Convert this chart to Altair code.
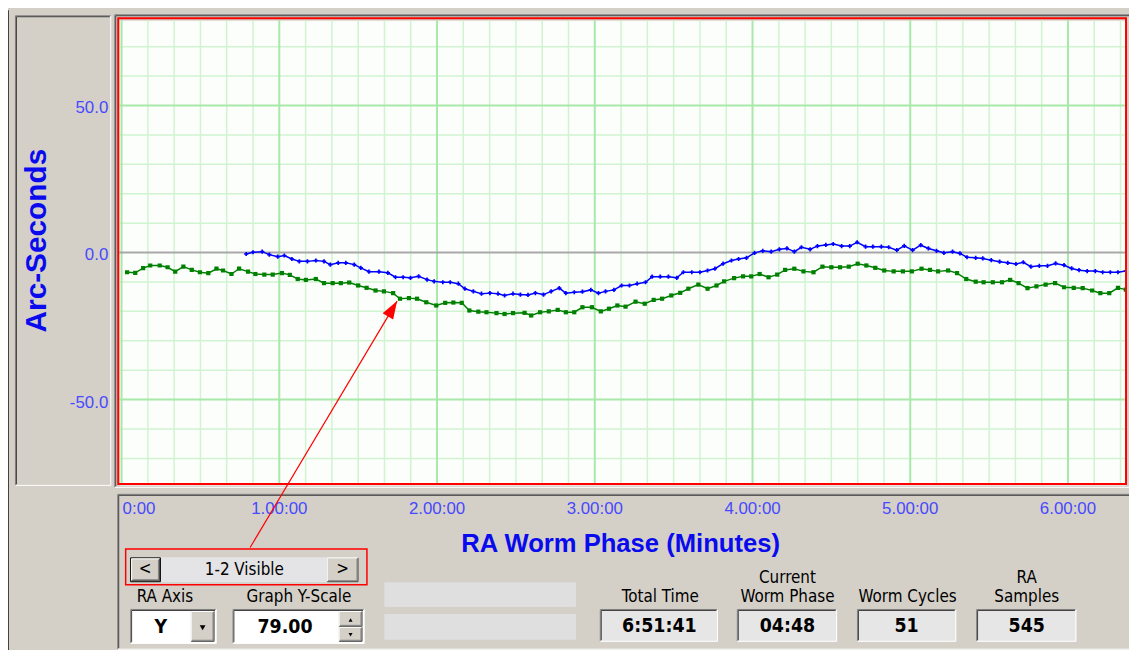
import altair as alt
import pandas as pd

# ---------------- series data (worm phase in minutes, error in arc-seconds) ----------------
green_t = [2.1, 5.2, 8.2, 10.9, 14.5, 17.5, 20.4, 23.5, 26.7, 29.8, 33.0, 36.1, 38.6, 41.8, 44.7,
           48.1, 50.9, 54.3, 57.5, 61.0, 64.0, 67.0, 70.1, 73.9, 77.0, 80.3, 83.4, 86.6, 90.0, 93.2,
           96.6, 99.8, 103.3, 105.9, 109.3, 112.4, 115.9, 119.7, 123.1, 126.2, 129.4, 132.3, 135.7,
           138.8, 142.6, 145.7, 148.9, 153.3, 155.8, 159.2, 162.5, 165.9, 169.0, 172.2, 175.3, 178.9,
           182.3, 185.4, 188.6, 191.7, 195.5, 199.0, 202.4, 205.6, 209.1, 212.5, 215.6, 219.4, 222.9,
           226.3, 229.2, 233.0, 236.4, 239.5, 242.7, 246.1, 249.4, 252.4, 255.9, 259.4, 263.2, 266.6,
           270.0, 273.3, 276.6, 280.0, 283.3, 286.7, 290.1, 293.7, 297.2, 300.6, 304.3, 307.5, 310.6,
           314.4, 317.8, 321.3, 324.9, 327.9, 331.4, 334.9, 338.0, 341.2, 344.6, 348.0, 351.5, 355.1,
           358.5, 362.2, 365.6, 369.2, 372.3, 375.7, 379.0, 382.0]
green_v = [-6.7, -6.9, -5.3, -4.4, -4.4, -5.0, -6.5, -4.8, -5.9, -6.7, -7.0, -5.5, -6.1, -7.3, -5.5,
           -6.5, -7.3, -7.5, -7.5, -7.0, -7.6, -9.0, -9.3, -9.0, -10.4, -10.4, -10.4, -10.2, -11.2, -12.0,
           -12.9, -13.2, -13.8, -15.7, -15.5, -15.7, -16.9, -18.0, -17.1, -17.0, -17.1, -19.7, -20.1,
           -20.3, -20.6, -20.9, -20.6, -20.5, -21.4, -20.3, -20.0, -19.5, -20.3, -20.3, -18.6, -18.6,
           -20.0, -19.1, -18.0, -18.4, -16.7, -17.4, -16.1, -15.7, -14.6, -13.7, -12.3, -10.9, -12.3,
           -11.2, -9.8, -8.7, -8.1, -8.1, -7.3, -8.4, -7.5, -5.9, -5.5, -6.4, -6.7, -4.8,
           -5.0, -5.0, -4.8, -3.8, -4.4, -5.2, -6.1, -6.4, -6.4, -6.4, -5.5, -5.9, -6.4,
           -6.1, -7.0, -9.0, -9.9, -10.1, -10.1, -10.1, -9.3, -10.4, -12.1, -11.5, -10.9, -10.4,
           -11.8, -12.0, -12.1, -12.9, -13.8, -13.8, -12.0, -12.6]

blue_t = [47.4, 50.0, 53.5, 56.2, 59.4, 61.9, 64.8, 67.6, 70.7, 73.9, 77.0, 79.4, 82.4, 85.3, 88.5,
          91.0, 94.1, 97.9, 101.3, 104.2, 107.1, 109.9, 113.0, 116.2, 118.9, 122.2, 125.0, 128.1,
          130.6, 133.8, 136.9, 140.1, 143.2, 145.7, 148.9, 151.7, 154.6, 157.4, 160.5, 163.4, 166.5,
          169.0, 172.2, 175.3, 178.5, 181.4, 184.1, 187.3, 190.2, 193.2, 196.1, 199.3, 201.8, 204.9,
          208.0, 211.2, 213.7, 216.9, 220.0, 222.9, 225.7, 228.8, 232.0, 234.7, 237.7, 240.8, 243.9,
          247.1, 250.2, 253.1, 255.9, 258.6, 261.9, 264.7, 267.9, 270.7, 273.9, 277.0, 279.8, 283.0,
          285.8, 289.0, 291.8, 294.9, 297.7, 300.9, 304.0, 306.9, 310.0, 312.8, 316.1, 318.9, 321.6,
          324.9, 327.6, 330.8, 334.0, 337.1, 340.2, 343.0, 345.9, 349.1, 352.2, 355.3, 358.5, 361.4,
          364.2, 367.3, 370.4, 373.2, 376.1, 379.0, 382.0]
blue_v = [-0.5, 0.1, 0.3, -0.7, -1.4, -1.0, -2.2, -3.0, -3.0, -2.7, -3.0, -4.1, -3.5, -3.5, -4.1,
          -5.2, -6.5, -6.5, -6.9, -8.4, -8.4, -8.6, -8.1, -9.2, -9.8, -10.1, -10.1, -10.6,
          -12.3, -13.2, -14.0, -13.8, -14.0, -14.6, -14.0, -14.3, -14.4, -13.8, -14.3, -13.2, -12.1,
          -13.8, -13.5, -13.3, -12.7, -13.8, -13.2, -12.7, -11.2, -11.2, -10.6, -10.1, -8.2, -8.2,
          -8.2, -8.6, -6.7, -6.7, -6.7, -6.1, -5.5, -3.8, -2.7, -2.2, -1.8, -0.1, 0.6,
          0.3, 1.1, 1.4, 0.3, 1.8, 1.1, 2.2, 2.6, 2.9, 2.2, 2.2, 3.5, 2.0,
          2.0, 2.0, 1.8, 0.8, 2.3, 0.8, 2.5, 1.4, 0.6, -0.1, 0.3, -0.3, -1.6,
          -1.8, -2.0, -2.6, -3.1, -3.5, -3.9, -3.3, -4.8, -4.5, -4.5, -3.7, -4.3, -5.4,
          -6.0, -6.3, -6.3, -6.7, -6.7, -6.7, -6.3]

series_names = ["Cycle 1", "Cycle 2"]
series_colors = ["#008000", "#0000ff"]
series_shapes = ["square", "cross"]

# axis ticks and grid positions
x_label_ticks = [0, 60, 120, 180, 240, 300, 360]
x_label_texts = ["0:00", "1.00:00", "2.00:00", "3.00:00", "4.00:00", "5.00:00", "6.00:00"]
y_label_ticks = [-50, 0, 50]
y_label_texts = ["-50.0", "0.0", "50.0"]
x_major_grid = [0, 60, 120, 180, 240, 300, 360]
x_minor_grid = [10, 20, 30, 40, 50, 70, 80, 90, 100, 110, 130, 140, 150, 160, 170, 190, 200, 210,
                220, 230, 250, 260, 270, 280, 290, 310, 320, 330, 340, 350, 370, 380]
y_major_grid = [-50, 50]
y_minor_grid = [-70, -60, -40, -30, -20, -10, 10, 20, 30, 40, 60, 70]
zero_line = [0]
x_title = "RA Worm Phase (Minutes)"
y_title = "Arc-Seconds"

# annotation arrow (data coordinates: tail in the control panel, tip at the curve)
arrow_t = [48.9]
arrow_v = [-100.3]
arrow_t2 = [104.8]
arrow_v2 = [-16.5]

# panel texts
label_texts = ["<", ">", "1-2 Visible", "RA Axis", "Graph Y-Scale", "Total Time", "Current",
               "Worm Phase", "Worm Cycles", "RA", "Samples"]
value_texts = ["Y", "79.00", "6:51:41", "04:48", "51", "545"]

X_DOM = [-0.9, 381.7]
Y_DOM = [-79, 79]

# ---------------- layout (page pixels) ----------------
OX, OY = 120, 18          # page position of plot area
W, H = 1013, 468
PAD = {"left": 112, "top": 10, "right": 4, "bottom": 164}

UI_FONT = "'Liberation Sans Narrow', 'DejaVu Sans Condensed', 'Liberation Sans', sans-serif"
AX_FONT = "Liberation Sans"
GRAY = "#d4d0c8"
LABEL_BLUE = "#4848ff"
TITLE_BLUE = "#0a0aee"

rects, frames, bevels = [], [], []


def rect(store, x0, y0, x1, y1, fill="transparent", stroke="transparent", sw=0):
    store.append(dict(x=x0 - OX, y=y0 - OY, x2=x1 - OX, y2=y1 - OY, fill=fill, stroke=stroke, sw=sw))


def line(x0, y0, x1, y1, color, w=1):
    bevels.append(dict(x=x0 - OX, y=y0 - OY, x2=x1 - OX, y2=y1 - OY, color=color, w=w))


def sunken(x0, y0, x1, y1, fill=None):
    if fill:
        rect(rects, x0, y0, x1, y1, fill=fill)
    line(x0 + .5, y0 + .5, x1 - .5, y0 + .5, "#808080")
    line(x0 + .5, y0 + .5, x0 + .5, y1 - .5, "#808080")
    line(x0 + 1.5, y0 + 1.5, x1 - 1.5, y0 + 1.5, "#404040")
    line(x0 + 1.5, y0 + 1.5, x0 + 1.5, y1 - 1.5, "#404040")
    line(x0 + .5, y1 - .5, x1 - .5, y1 - .5, "#ffffff")
    line(x1 - .5, y0 + .5, x1 - .5, y1 - .5, "#ffffff")


def raised(x0, y0, x1, y1, fill=GRAY):
    rect(rects, x0, y0, x1, y1, fill=fill)
    line(x0 + .5, y0 + .5, x1 - .5, y0 + .5, "#ffffff")
    line(x0 + .5, y0 + .5, x0 + .5, y1 - .5, "#ffffff")
    line(x0 + .5, y1 - .5, x1 - .5, y1 - .5, "#404040")
    line(x1 - .5, y0 + .5, x1 - .5, y1 - .5, "#404040")
    line(x0 + 1.5, y1 - 1.5, x1 - 1.5, y1 - 1.5, "#808080")
    line(x1 - 1.5, y0 + 1.5, x1 - 1.5, y1 - 1.5, "#808080")


# window edge
line(8.5, 8, 8.5, 660, "#404040")
# y-axis panel
sunken(15, 13, 112, 487)
# plot frame
sunken(115, 12, 1140, 489)
rect(frames, 119, 16, 1134, 485, stroke="#ff0000", sw=2)
# bottom control panel
sunken(118, 495, 1145, 652)
# scroll control + red annotation box
rect(rects, 162, 559, 329, 584, fill="#e4e3e6")
raised(132, 560, 161, 583)
rect(frames, 131.5, 559.5, 161.5, 583.5, stroke="#000000", sw=1)
raised(329, 559, 361, 584)
rect(frames, 126.5, 550.5, 369.5, 586.5, stroke="#ff0000", sw=1.5)
# combo box and spin box
sunken(131, 611, 218, 646, fill="#ffffff")
raised(192, 613, 216, 644)
sunken(234, 611, 367, 646, fill="#ffffff")
raised(341, 613, 365, 629)
raised(341, 629, 365, 644)
# empty status fields
rect(rects, 387, 584, 580, 609, fill="#dfdfdf")
rect(rects, 387, 616, 580, 642, fill="#dfdfdf")
# value boxes
for bx0, bx1 in [(604, 723), (742, 843), (863, 963), (983, 1084)]:
    sunken(bx0, 611, bx1, 644, fill="#e6e6e6")

label_pos = [(146, 571), (345, 571), (246, 572), (166, 599), (301, 599), (665, 599), (793, 580),
             (793, 599), (914, 599), (1034, 580), (1034, 599)]
value_pos = [(162, 629), (287, 629), (664, 628), (793, 628), (913, 628), (1034, 628)]
tri_pos = [(204, 630, "triangle-down", 34), (353, 622, "triangle-up", 16), (353, 637, "triangle-down", 16)]

df_labels = pd.DataFrame({"text": label_texts,
                          "x": [p[0] - OX for p in label_pos], "y": [p[1] - OY for p in label_pos]})
df_values = pd.DataFrame({"text": value_texts,
                          "x": [p[0] - OX for p in value_pos], "y": [p[1] - OY for p in value_pos]})
df_tri = pd.DataFrame({"x": [p[0] - OX for p in tri_pos], "y": [p[1] - OY for p in tri_pos],
                       "shape": [p[2] for p in tri_pos], "size": [p[3] for p in tri_pos]})

# ---------------- chart ----------------
xs = alt.Scale(domain=X_DOM, nice=False, zero=False)
ys = alt.Scale(domain=Y_DOM, nice=False, zero=False)
px = lambda f: alt.X(f, scale=None, axis=None)
py = lambda f: alt.Y(f, scale=None, axis=None)
dx_ = lambda f: alt.X(f, scale=xs, axis=None)
dy_ = lambda f: alt.Y(f, scale=ys, axis=None)

ui_rects = alt.Chart(pd.DataFrame(rects)).mark_rect().encode(
    x=px("x:Q"), x2="x2:Q", y=py("y:Q"), y2="y2:Q",
    fill=alt.Fill("fill:N", scale=None), stroke=alt.Stroke("stroke:N", scale=None),
    strokeWidth=alt.StrokeWidth("sw:Q", scale=None))

ui_frames = alt.Chart(pd.DataFrame(frames)).mark_rect(fill="transparent").encode(
    x=px("x:Q"), x2="x2:Q", y=py("y:Q"), y2="y2:Q",
    stroke=alt.Stroke("stroke:N", scale=None), strokeWidth=alt.StrokeWidth("sw:Q", scale=None))

ui_bevels = alt.Chart(pd.DataFrame(bevels)).mark_rule().encode(
    x=px("x:Q"), x2="x2:Q", y=py("y:Q"), y2="y2:Q",
    color=alt.Color("color:N", scale=None), strokeWidth=alt.StrokeWidth("w:Q", scale=None))

grid_minor_x = alt.Chart(pd.DataFrame({"t": x_minor_grid})).mark_rule(
    color="#d0f4d0", strokeWidth=1.5).encode(x=dx_("t:Q"))
grid_major_x = alt.Chart(pd.DataFrame({"t": x_major_grid})).mark_rule(
    color="#a8e8a8", strokeWidth=2).encode(x=dx_("t:Q"))
grid_minor_y = alt.Chart(pd.DataFrame({"v": y_minor_grid})).mark_rule(
    color="#d0f4d0", strokeWidth=1.5).encode(y=dy_("v:Q"))
grid_major_y = alt.Chart(pd.DataFrame({"v": y_major_grid})).mark_rule(
    color="#a8e8a8", strokeWidth=2).encode(y=dy_("v:Q"))
zero_rule = alt.Chart(pd.DataFrame({"v": zero_line})).mark_rule(
    color="#a8a8a8", strokeWidth=2).encode(y=dy_("v:Q"))

df_series = pd.concat([
    pd.DataFrame({"t": green_t, "v": green_v, "series": series_names[0]}),
    pd.DataFrame({"t": blue_t, "v": blue_v, "series": series_names[1]}),
])
base = alt.Chart(df_series).encode(
    x=dx_("t:Q"), y=dy_("v:Q"),
    color=alt.Color("series:N", scale=alt.Scale(domain=series_names, range=series_colors), legend=None),
    detail="series:N",
)
lines_layer = base.mark_line(strokeWidth=1.5, clip=True)
points_layer = base.mark_point(filled=True, size=18, opacity=1, clip=True).encode(
    shape=alt.Shape("series:N", scale=alt.Scale(domain=series_names, range=series_shapes), legend=None))

# axis tick labels and titles (drawn as text so they sit on top of the control panels)
df_xlab = pd.DataFrame({"t": x_label_ticks, "text": x_label_texts})
x_labels_first = alt.Chart(df_xlab.iloc[:1]).mark_text(
    font=AX_FONT, fontSize=17, color=LABEL_BLUE, align="left", baseline="middle", dx=1).encode(
    x=dx_("t:Q"), y=alt.value(510 - OY), text="text:N")
x_labels_rest = alt.Chart(df_xlab.iloc[1:]).mark_text(
    font=AX_FONT, fontSize=17, color=LABEL_BLUE, align="center", baseline="middle").encode(
    x=dx_("t:Q"), y=alt.value(510 - OY), text="text:N")
y_labels = alt.Chart(pd.DataFrame({"v": y_label_ticks, "text": y_label_texts})).mark_text(
    font=AX_FONT, fontSize=17, color=LABEL_BLUE, align="right", baseline="middle", dy=3).encode(
    x=alt.value(109 - OX), y=dy_("v:Q"), text="text:N")
x_title_layer = alt.Chart(pd.DataFrame({"text": [x_title]})).mark_text(
    font=AX_FONT, fontSize=25.8, fontWeight="bold", color=TITLE_BLUE, align="center", baseline="middle").encode(
    x=alt.value(625 - OX), y=alt.value(546 - OY), text="text:N")
y_title_layer = alt.Chart(pd.DataFrame({"text": [y_title]})).mark_text(
    font=AX_FONT, fontSize=30, fontWeight="bold", color=TITLE_BLUE, align="center", baseline="middle",
    angle=270).encode(
    x=alt.value(37 - OX), y=alt.value(240 - OY), text="text:N")

text_labels = alt.Chart(df_labels).mark_text(
    font=UI_FONT, fontSize=17, color="#000000", align="center", baseline="middle").encode(
    x=px("x:Q"), y=py("y:Q"), text="text:N")
text_values = alt.Chart(df_values).mark_text(
    font=UI_FONT, fontSize=19.5, fontWeight="bold", color="#000000", align="center", baseline="middle").encode(
    x=px("x:Q"), y=py("y:Q"), text="text:N")
tri_layer = alt.Chart(df_tri).mark_point(filled=True, color="#000000", opacity=1).encode(
    x=px("x:Q"), y=py("y:Q"), shape=alt.Shape("shape:N", scale=None),
    size=alt.Size("size:Q", scale=None))

df_arrow = pd.DataFrame({"t": arrow_t, "v": arrow_v, "t2": arrow_t2, "v2": arrow_v2})
arrow_line = alt.Chart(df_arrow).mark_rule(color="#ff0000", strokeWidth=1.2).encode(
    x=dx_("t:Q"), y=dy_("v:Q"), x2="t2:Q", y2="v2:Q")
arrow_head = alt.Chart(df_arrow).mark_point(
    shape="M0,0L0.55,1.6L-0.55,1.6Z", size=506, filled=True, color="#ff0000", opacity=1, angle=31).encode(
    x=dx_("t2:Q"), y=dy_("v2:Q"))

chart = alt.layer(
    ui_rects, grid_minor_x, grid_minor_y, grid_major_x, grid_major_y, zero_rule,
    lines_layer, points_layer, ui_frames, ui_bevels,
    x_labels_first, x_labels_rest, y_labels, x_title_layer, y_title_layer,
    text_labels, text_values, tri_layer, arrow_line, arrow_head,
).properties(
    width=W, height=H, padding=PAD, autosize="none", background=GRAY,
).configure_view(fill="#fcfefc", stroke="transparent")

chart.save("out.html", embed_options={"renderer": "svg", "actions": False})
